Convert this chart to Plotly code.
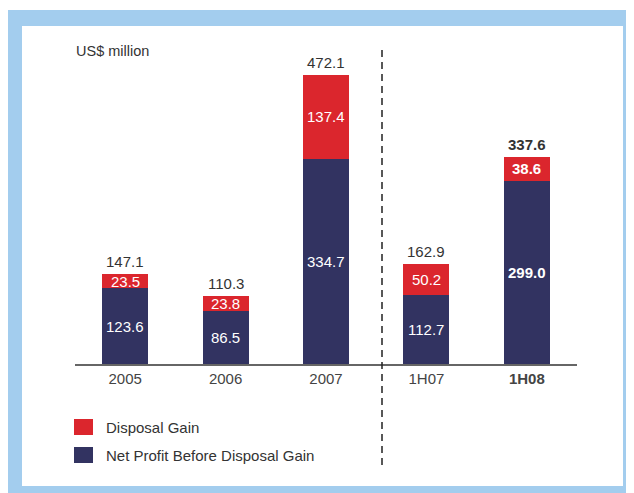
import plotly.graph_objects as go

# page body has an 8px margin, so the figure is shifted; work in reference pixels
OFF = 8
W, H = 634 - OFF, 493 - OFF

periods = ['2005', '2006', '2007', '1H07', '1H08']
net_profit = [123.6, 86.5, 334.7, 112.7, 299.0]
disposal_gain = [23.5, 23.8, 137.4, 50.2, 38.6]
totals = [147.1, 110.3, 472.1, 162.9, 337.6]
bold_period = '1H08'

navy = '#323361'
red = '#db262d'
frame_blue = '#a3cdee'
txt = '#333333'
font_fam = 'Liberation Sans, Arial, sans-serif'


def px(x):
    return (x - OFF) / W


def py(y):
    return 1 - (y - OFF) / H


def fmt(v, p):
    s = f'{v:.1f}'
    return f'<b>{s}</b>' if p == bold_period else s


fig = go.Figure()
fig.add_trace(go.Bar(x=periods, y=net_profit, name='Net Profit Before Disposal Gain',
                     marker=dict(color=navy, line=dict(width=0)), width=0.46))
fig.add_trace(go.Bar(x=periods, y=disposal_gain, name='Disposal Gain',
                     marker=dict(color=red, line=dict(width=0)), width=0.46))

ann = []
for i, (p, n, d, t) in enumerate(zip(periods, net_profit, disposal_gain, totals)):
    ann.append(dict(x=i, y=n / 2, text=fmt(n, p), showarrow=False,
                    font=dict(color='white', size=15, family=font_fam)))
    ann.append(dict(x=i, y=n + d / 2, text=fmt(d, p), showarrow=False,
                    font=dict(color='white', size=15, family=font_fam)))
    ann.append(dict(x=i, y=t, text=fmt(t, p), showarrow=False, yanchor='bottom', yshift=2,
                    font=dict(color=txt, size=15, family=font_fam)))

ann.append(dict(xref='paper', yref='paper', x=px(74), y=py(51), text='US$ million',
                showarrow=False, xanchor='left', yanchor='middle',
                font=dict(color=txt, size=14.5, family=font_fam)))

# legend drawn by hand
legend_items = [('Disposal Gain', red, 427), ('Net Profit Before Disposal Gain', navy, 455)]
shapes = [
    dict(type='rect', xref='paper', yref='paper', x0=px(7), x1=px(650), y0=py(10), y1=py(510),
         fillcolor=frame_blue, line=dict(width=0), layer='below'),
    dict(type='rect', xref='paper', yref='paper', x0=px(22), x1=px(623), y0=py(26), y1=py(486),
         fillcolor='white', line=dict(width=0), layer='below'),
    dict(type='line', xref='paper', yref='paper', x0=px(382), x1=px(382), y0=py(50), y1=py(466),
         line=dict(color='#222222', width=1.5, dash='7px,5px')),
]
for name, col, yc in legend_items:
    shapes.append(dict(type='rect', xref='paper', yref='paper', x0=px(74), x1=px(93),
                       y0=py(yc - 8), y1=py(yc + 8), fillcolor=col, line=dict(width=0)))
    ann.append(dict(xref='paper', yref='paper', x=px(104), y=py(yc), text=name, showarrow=False,
                    xanchor='left', yanchor='middle', font=dict(color=txt, size=15, family=font_fam)))

tick_text = [f'<b>{p}</b>' if p == bold_period else p for p in periods]

fig.update_layout(
    width=W, height=H,
    margin=dict(l=0, r=0, t=0, b=0),
    barmode='stack',
    showlegend=False,
    paper_bgcolor='white',
    plot_bgcolor='rgba(0,0,0,0)',
    font=dict(family=font_fam, color=txt),
    xaxis=dict(type='category', domain=[px(75), px(577)], range=[-0.5, 4.5], showgrid=False,
               zeroline=False, showline=True, linecolor='#666666', linewidth=2, ticks='',
               tickvals=periods, ticktext=tick_text, tickfont=dict(size=15, color='#444444')),
    yaxis=dict(domain=[py(364), py(40)], range=[0, 528.5], visible=False),
    shapes=shapes,
    annotations=ann,
)

fig.write_html('out.html')
